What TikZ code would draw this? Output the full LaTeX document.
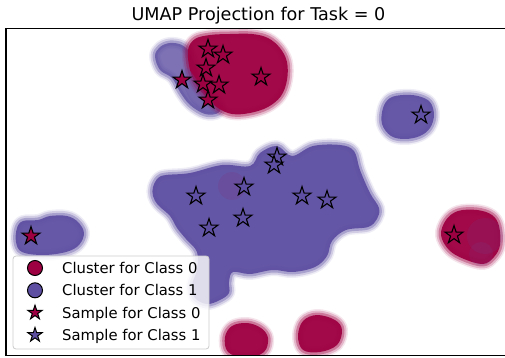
\documentclass[tikz,border=0pt]{standalone}
\usepackage{fontspec}
\setmainfont{DejaVu Sans}
\usetikzlibrary{shapes.geometric}
\definecolor{czero}{HTML}{9E0142}
\definecolor{cone}{HTML}{5E4FA2}
\tikzset{
  sstar/.style={star, star points=5, star point ratio=2.618, minimum size=19pt, inner sep=0pt, draw=black, line width=1.1pt},
  lstar/.style={sstar, minimum size=15pt, line width=1pt},
  ldot/.style={circle, minimum size=15pt, inner sep=0pt, draw=black, line width=1pt},
  legtext/.style={anchor=base west, inner sep=0pt, font=\fontsize{14.8}{17}\selectfont},
}
% #1 colour, #2 core opacity, #3 outline coordinates
\newcommand\blob[3]{%
  \draw[#1, draw opacity=0.1, line width=12pt, line join=round] plot[smooth cycle, tension=0.6] coordinates {#3};
  \draw[#1, draw opacity=0.2, line width=9pt, line join=round] plot[smooth cycle, tension=0.6] coordinates {#3};
  \draw[#1, draw opacity=0.35, line width=5pt, line join=round] plot[smooth cycle, tension=0.6] coordinates {#3};
  \fill[#1, fill opacity=#2] plot[smooth cycle, tension=0.6] coordinates {#3};}
\begin{document}
\begin{tikzpicture}[x=1pt,y=-1pt]
\useasboundingbox (0,0) rectangle (505,358);
\begin{scope}
\clip (6,28.5) rectangle (520,355.5);
% ---- top mixed cluster
\blob{cone}{0.8}{(155,56) (160,47) (170,43) (182,45) (190,53) (197,70) (208,90) (220,104) (218,113) (205,114) (190,105) (180,92) (172,78) (160,70)}
\blob{czero}{0.97}{(188,50) (195,39) (210,35) (230,34) (252,34) (268,38) (280,48) (287,62) (287,80) (281,96) (268,107) (250,113) (232,114) (218,108) (207,98) (197,86) (190,70)}
\fill[cone,fill opacity=0.3] plot[smooth cycle] coordinates {(186,68) (194,76) (204,92) (214,104) (214,112) (204,112) (192,102) (184,86)};
% ---- right purple cluster
\blob{cone}{0.95}{(383,108) (390,98) (403,95) (418,96) (430,102) (434,115) (430,128) (420,136) (405,139) (391,136) (382,124)}
% ---- central purple cluster
\blob{cone}{0.96}{(153,187) (158,178) (166,175) (190,173) (222,165) (250,166) (260,153) (277,146) (292,156) (313,146) (340,145) (354,151) (360,170) (370,193) (379,208) (377,219) (368,227) (346,230) (332,241) (327,256) (315,267) (293,272) (273,270) (250,274) (233,272) (229,282) (229,293) (220,300) (207,304) (195,298) (192,285) (197,270) (197,252) (186,239) (177,228) (170,216) (158,205) (153,196)}
\fill[czero,fill opacity=0.08] (232,186) circle[radius=14pt];
% ---- left purple cluster
\blob{cone}{0.95}{(17,228) (23,221) (38,220) (50,216) (67,216) (78,222) (84,233) (79,245) (66,252) (43,255) (22,252) (16,242)}
% ---- right red cluster
\blob{czero}{0.97}{(441,235) (446,220) (458,211) (477,210) (492,215) (499,226) (500,245) (494,257) (483,264) (464,259) (449,250)}
\fill[cone,fill opacity=0.13] (485,236) circle[radius=18pt];
\fill[cone,fill opacity=0.12] (481,254) circle[radius=12pt];
% ---- bottom red clusters
\blob{czero}{0.97}{(225,337) (232,326) (247,323) (261,328) (268,338) (264,352) (246,358) (228,352)}
\blob{czero}{0.97}{(298,336) (303,321) (317,315) (335,320) (342,330) (337,345) (320,352) (303,350)}
% ---- sample stars
\foreach \x/\y [count=\i] in {208/49,223/55,206/68,182/80,203/84,219/85,208/100,261/77,31/236,454/235}
  \node[sstar, fill=czero] (r\i) at (\x,\y) {};
\foreach \x/\y [count=\i] in {421/115,277/157,274/165,244/187,196/196,302/196,327/200,243/218,209/228}
  \node[sstar, fill=cone] (p\i) at (\x,\y) {};
\end{scope}
% ---- axes frame
\draw[line width=1.2pt] (520,28.5) -- (6,28.5) -- (6,355.5) -- (520,355.5);
% ---- title
\node[anchor=base, inner sep=0pt, font=\fontsize{17.6}{20}\selectfont] (title) at (258.5,21) {UMAP Projection for Task = 0};
% ---- legend
\draw[rounded corners=3pt, draw=black!20, line width=0.8pt, fill=white, fill opacity=0.8] (13,256) rectangle (209,349);
\node[ldot, fill=czero] (l1) at (35,268) {};
\node[ldot, fill=cone] (l2) at (35,290.3) {};
\node[lstar, fill=czero] (l3) at (35,312.7) {};
\node[lstar, fill=cone] (l4) at (35,335) {};
\node[legtext] (t1) at (62,273.4) {Cluster for Class 0};
\node[legtext] (t2) at (62,295.7) {Cluster for Class 1};
\node[legtext] (t3) at (62,318.1) {Sample for Class 0};
\node[legtext] (t4) at (62,340.4) {Sample for Class 1};
\end{tikzpicture}
\end{document}
